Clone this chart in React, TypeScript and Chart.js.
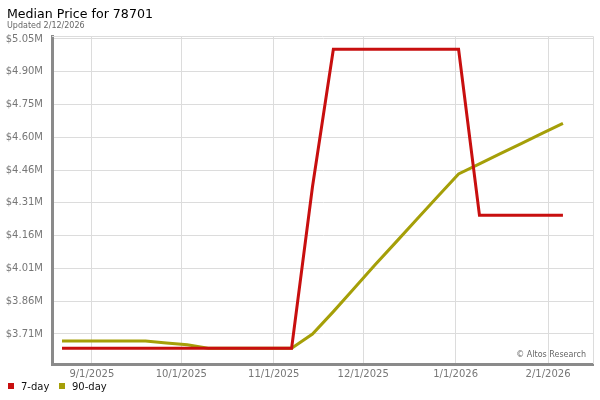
import React, { useEffect, useRef } from "react";
import { Chart, registerables } from "chart.js";

Chart.register(...registerables);

// weekly sample dates (Fridays)
const weeks = [
  "2025-08-22", "2025-08-29", "2025-09-05", "2025-09-12", "2025-09-19",
  "2025-09-26", "2025-10-03", "2025-10-10", "2025-10-17", "2025-10-24",
  "2025-10-31", "2025-11-07", "2025-11-14", "2025-11-21", "2025-11-28",
  "2025-12-05", "2025-12-12", "2025-12-19", "2025-12-26", "2026-01-02",
  "2026-01-09", "2026-01-16", "2026-01-23", "2026-01-30", "2026-02-06",
];

// median price in $M
const sevenDay = [
  3.646, 3.646, 3.646, 3.646, 3.646, 3.646, 3.646, 3.646, 3.646, 3.646,
  3.646, 3.646, 4.38, 5.005, 5.005, 5.005, 5.005, 5.005, 5.005, 5.005,
  4.25, 4.25, 4.25, 4.25, 4.25,
];
const ninetyDay = [
  3.678, 3.678, 3.678, 3.678, 3.678, 3.67, 3.661, 3.646, 3.646, 3.646,
  3.646, 3.646, 3.71, 3.812, 3.918, 4.025, 4.128, 4.232, 4.335, 4.438,
  4.484, 4.53, 4.576, 4.622, 4.668,
];

const monthTicks = ["2025-09-01", "2025-10-01", "2025-11-01", "2025-12-01", "2026-01-01", "2026-02-01"];
const monthLabels = ["9/1/2025", "10/1/2025", "11/1/2025", "12/1/2025", "1/1/2026", "2/1/2026"];

const priceTicks = [3.7105, 3.8595, 4.0085, 4.1575, 4.3065, 4.4555, 4.6045, 4.7535, 4.9025, 5.0515];
const priceLabels = ["$3.71M", "$3.86M", "$4.01M", "$4.16M", "$4.31M", "$4.46M", "$4.60M", "$4.75M", "$4.90M", "$5.05M"];

const RED = "#c80f0f";
const OLIVE = "#a59f08";
const FONT = "'DejaVu Sans', Verdana, sans-serif";

const origin = Date.UTC(2025, 8, 1);
const toDay = (s: string) => {
  const [y, m, d] = s.split("-").map(Number);
  return (Date.UTC(y, m - 1, d) - origin) / 86400000;
};

const overlay = {
  id: "overlay",
  beforeDatasetsDraw(chart: any) {
    const { ctx, chartArea } = chart;
    ctx.save();
    ctx.strokeStyle = "#dcdcdc";
    ctx.lineWidth = 1;
    ctx.beginPath();
    ctx.moveTo(chartArea.left, chartArea.top + 0.5);
    ctx.lineTo(chartArea.right + 0.5, chartArea.top + 0.5);
    ctx.lineTo(chartArea.right + 0.5, chartArea.bottom);
    ctx.stroke();
    ctx.restore();
  },
  afterDraw(chart: any) {
    const { ctx } = chart;
    ctx.save();
    ctx.textBaseline = "alphabetic";
    ctx.textAlign = "left";
    ctx.fillStyle = "#000";
    ctx.font = `12.6px ${FONT}`;
    ctx.fillText("Median Price for 78701", 7, 18);
    ctx.fillStyle = "#666";
    ctx.font = `8px ${FONT}`;
    ctx.fillText("Updated 2/12/2026", 7, 28);

    ctx.textAlign = "right";
    ctx.fillText("© Altos Research", 586, 357);

    // legend
    ctx.textAlign = "left";
    ctx.font = `10px ${FONT}`;
    ctx.fillStyle = RED;
    ctx.fillRect(8, 383, 6, 6);
    ctx.fillStyle = OLIVE;
    ctx.fillRect(59, 383, 6, 6);
    ctx.fillStyle = "#111";
    ctx.fillText("7-day", 21, 390);
    ctx.fillText("90-day", 72, 390);
    ctx.restore();
  },
};

export default function App() {
  const canvasRef = useRef<HTMLCanvasElement>(null);
  const chartRef = useRef<Chart | null>(null);

  useEffect(() => {
    document.body.style.margin = "0";
    if (!canvasRef.current) return;
    const ctx = canvasRef.current.getContext("2d");
    if (!ctx) return;
    if (chartRef.current) chartRef.current.destroy();

    const xs = weeks.map(toDay);

    chartRef.current = new Chart(ctx, {
      type: "line",
      data: {
        datasets: [
          {
            label: "7-day",
            data: xs.map((x, i) => ({ x, y: sevenDay[i] })),
            borderColor: RED,
            backgroundColor: RED,
            borderWidth: 3,
            pointRadius: 0,
            tension: 0,
          },
          {
            label: "90-day",
            data: xs.map((x, i) => ({ x, y: ninetyDay[i] })),
            borderColor: OLIVE,
            backgroundColor: OLIVE,
            borderWidth: 3,
            pointRadius: 0,
            tension: 0,
          },
        ],
      },
      options: {
        responsive: false,
        animation: false,
        layout: { padding: { left: 0, top: 36, right: 7, bottom: 0 } },
        plugins: {
          legend: { display: false },
          tooltip: { enabled: false },
        },
        scales: {
          x: {
            type: "linear",
            min: -13.36,
            max: 168.08,
            afterBuildTicks: (scale: any) => {
              scale.ticks = monthTicks.map((d) => ({ value: toDay(d) }));
            },
            afterFit: (scale: any) => {
              scale.height = 36;
            },
            grid: { color: "#dcdcdc", drawTicks: false },
            border: { display: true, color: "#8a8a8a", width: 3 },
            ticks: {
              autoSkip: false,
              maxRotation: 0,
              padding: 4,
              color: "#777",
              font: { family: FONT, size: 10 },
              callback: (_v: any, i: number) => monthLabels[i],
            },
          },
          y: {
            type: "linear",
            min: 3.574,
            max: 5.065,
            afterBuildTicks: (scale: any) => {
              scale.ticks = priceTicks.map((v) => ({ value: v }));
            },
            afterFit: (scale: any) => {
              scale.width = 52;
            },
            grid: { color: "#dcdcdc", drawTicks: false },
            border: { display: true, color: "#8a8a8a", width: 3 },
            ticks: {
              autoSkip: false,
              padding: 9,
              color: "#777",
              font: { family: FONT, size: 10 },
              callback: (_v: any, i: number) => priceLabels[i],
            },
          },
        },
      },
      plugins: [overlay],
    });

    return () => {
      if (chartRef.current) {
        chartRef.current.destroy();
        chartRef.current = null;
      }
    };
  }, []);

  return (
    <div style={{ width: 600, height: 400 }}>
      <canvas ref={canvasRef} width={600} height={400} />
    </div>
  );
}
